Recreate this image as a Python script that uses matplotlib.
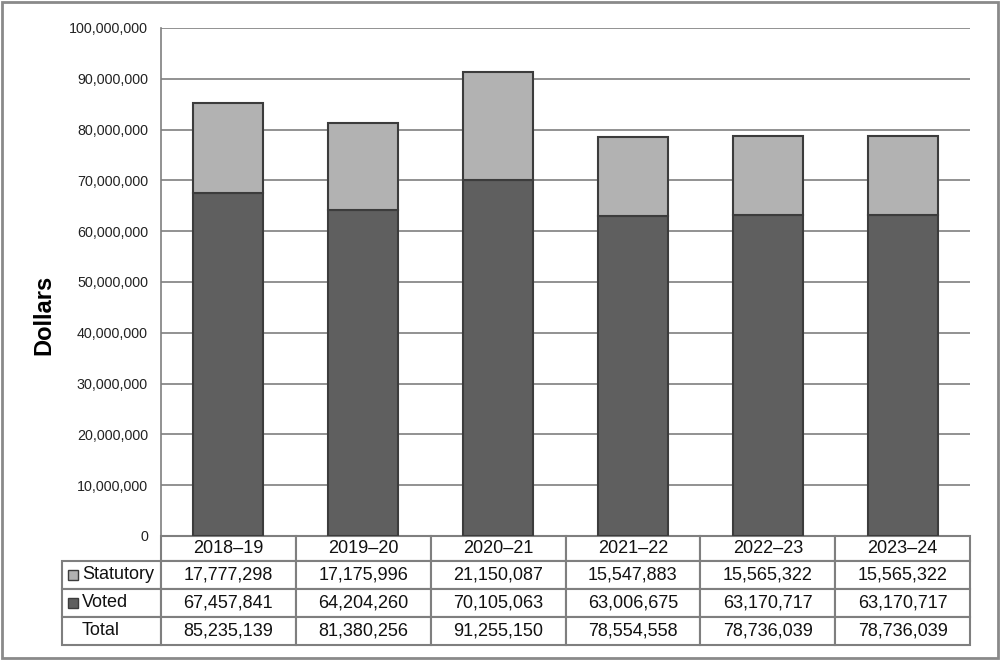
import matplotlib
matplotlib.use("Agg")
import matplotlib.pyplot as plt
from matplotlib.patches import Rectangle
from matplotlib.ticker import FuncFormatter, MultipleLocator

plt.rcParams['font.family'] = ['Liberation Sans', 'DejaVu Sans']

years = ["2018\u201319", "2019\u201320", "2020\u201321", "2021\u201322", "2022\u201323", "2023\u201324"]
statutory = [17777298, 17175996, 21150087, 15547883, 15565322, 15565322]
voted = [67457841, 64204260, 70105063, 63006675, 63170717, 63170717]
totals = [85235139, 81380256, 91255150, 78554558, 78736039, 78736039]
row_labels = ["Statutory", "Voted", "Total"]

c_voted = "#5f5f5f"
c_stat = "#b2b2b2"
c_edge = "#3c3c3c"
c_grid = "#7f7f7f"

fig = plt.figure(figsize=(10, 6.6), dpi=100)
AX_W, AX_H = 809, 508
ax = fig.add_axes([0.161, 0.188, AX_W / 1000, AX_H / 660])

x = list(range(len(years)))
ax.bar(x, voted, width=0.52, color=c_voted, edgecolor=c_edge, linewidth=1.5, zorder=3)
ax.bar(x, statutory, bottom=voted, width=0.52, color=c_stat, edgecolor=c_edge, linewidth=1.5, zorder=3)

ax.set_xlim(-0.5, len(years) - 0.5)
ax.set_ylim(0, 100000000)
ax.yaxis.set_major_locator(MultipleLocator(10000000))
ax.yaxis.set_major_formatter(FuncFormatter(lambda v, p: f"{int(v):,}"))
ax.tick_params(axis='y', length=0, pad=9.4, labelsize=10.3, labelcolor="#222222")
ax.tick_params(axis='x', length=0, labelbottom=False)
ax.grid(axis='y', color=c_grid, linewidth=1.2, zorder=0)
for s in ['top', 'right', 'bottom']:
    ax.spines[s].set_visible(False)
ax.spines['left'].set_color(c_grid)
ax.spines['left'].set_linewidth(1.2)
fig.text(44 / 1000, 1 - 315 / 660, "Dollars", rotation=90, ha='center', va='center',
         fontsize=17, fontweight='bold', color="#000000")

# data table under the plot
cell_text = [[f"{v:,}" for v in statutory],
             [f"{v:,}" for v in voted],
             [f"{v:,}" for v in totals]]
n = len(years)
tbl = ax.table(cellText=cell_text, rowLabels=row_labels, colLabels=years,
               cellLoc='center', rowLoc='left', colWidths=[1 / n] * n,
               bbox=[0, -109 / AX_H, 1, 109 / AX_H])
tbl._autoColumns = []
tbl.auto_set_font_size(False)
tbl.set_fontsize(13)
for (r, cidx), cell in tbl.get_celld().items():
    cell.set_edgecolor(c_grid)
    cell.set_linewidth(1.5)
    cell.get_text().set_color("#111111")
    cell.set_height(25 if r == 0 else 28)
    if cidx == -1:
        cell.set_width(99 / AX_W)
        cell.PAD = 0.2
tbl.set_clip_on(False)

# legend keys in row labels
fig.add_artist(Rectangle((68 / 1000, 1 - 580 / 660), 10 / 1000, 10 / 660,
                         facecolor=c_stat, edgecolor=c_edge, linewidth=1, transform=fig.transFigure))
fig.add_artist(Rectangle((68 / 1000, 1 - 608 / 660), 10 / 1000, 10 / 660,
                         facecolor=c_voted, edgecolor=c_edge, linewidth=1, transform=fig.transFigure))

# outer border
fig.add_artist(Rectangle((0.002, 0.003), 0.996, 0.994, fill=False, edgecolor="#8a8a8a",
                         linewidth=2, transform=fig.transFigure))

fig.savefig("out.png", dpi=100)
